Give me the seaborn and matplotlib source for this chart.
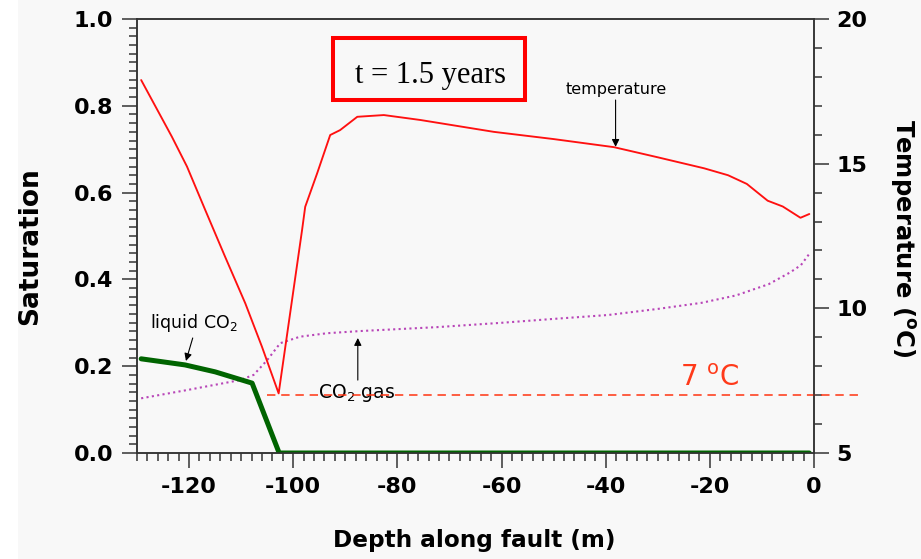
import matplotlib
matplotlib.use("Agg")
import matplotlib.pyplot as plt
from matplotlib.patches import Rectangle
from matplotlib.ticker import MultipleLocator
import seaborn as sns
import numpy as np

# ---------------- data ----------------
temp_depth = [-129.2, -123.3, -120.4, -116.9, -113.1, -109.2, -106.0, -102.8,
              -98.3, -97.7, -95.4, -92.9, -91.0, -87.7, -82.6, -75.6, -61.5,
              -50.0, -38.4, -30.0, -21.1, -16.5, -12.9, -8.9, -6.0, -2.6, -0.9]
temperature = [17.89, 15.93, 14.90, 13.40, 11.79, 10.17, 8.67, 7.06,
               12.71, 13.51, 14.67, 15.99, 16.16, 16.62, 16.68, 16.51, 16.10,
               15.85, 15.57, 15.22, 14.84, 14.60, 14.30, 13.72, 13.52, 13.13, 13.26]

liq_depth = [-129.2, -120.8, -115.0, -107.9, -102.7, -90.0, -60.0, -30.0, -0.9]
liquid_co2 = [0.217, 0.203, 0.187, 0.161, 0.0, 0.0, 0.0, 0.0, 0.0]

gas_depth = [-129.2, -120.4, -110.2, -107.6, -105.0, -102.5, -98.7, -93.5,
             -87.1, -72.4, -60.0, -50.0, -39.5, -30.0, -21.6, -15.0, -8.7,
             -4.6, -2.5, -0.9]
co2_gas = [0.126, 0.145, 0.168, 0.180, 0.214, 0.253, 0.268, 0.276,
           0.281, 0.290, 0.300, 0.309, 0.318, 0.332, 0.346, 0.363, 0.389,
           0.416, 0.433, 0.459]

threshold_temp = 7.0
threshold_range = [-105.0, 8.7]

x_lim = [-130, 0]
sat_lim = [0.0, 1.0]
temp_lim = [5, 20]

# ---------------- style ----------------
sns.set_style("ticks")
plt.rcParams['font.family'] = ['DejaVu Sans']
plt.rcParams['axes.unicode_minus'] = False
plt.rcParams['text.color'] = 'black'
plt.rcParams['axes.labelcolor'] = 'black'
plt.rcParams['xtick.color'] = 'black'
plt.rcParams['ytick.color'] = 'black'
plt.rcParams['xtick.labelcolor'] = 'black'
plt.rcParams['ytick.labelcolor'] = 'black'
BG = '#f8f8f8'
SPINE = '#333333'

fig = plt.figure(figsize=(9.21, 5.59), dpi=100, facecolor=BG)
fig.patches.append(Rectangle((0, 0), 18 / 921, 1, transform=fig.transFigure,
                             facecolor='white', edgecolor='none', zorder=-1))

ax = fig.add_axes([137 / 921, 1 - 453 / 559, 677 / 921, 434 / 559])
ax.set_facecolor(BG)
ax2 = ax.twinx()

# liquid CO2
sns.lineplot(x=liq_depth, y=liquid_co2, ax=ax, color='#006400', lw=3.6,
             sort=False, estimator=None, legend=False, zorder=3)
# CO2 gas
sns.lineplot(x=gas_depth, y=co2_gas, ax=ax, color='#b845b8', lw=1.5,
             linestyle=(0, (1, 1.6)), sort=False, estimator=None,
             legend=False, zorder=2)
# temperature
sns.lineplot(x=temp_depth, y=temperature, ax=ax2, color='#ff1010', lw=1.35,
             sort=False, estimator=None, legend=False, zorder=3)
# 7 C line
ax2.plot(threshold_range, [threshold_temp, threshold_temp], color='#ff3311',
         lw=1.1, linestyle=(0, (5.5, 3.8)), clip_on=False, zorder=2)

ax.set_xlim(*x_lim)
ax.set_ylim(*sat_lim)
ax2.set_ylim(*temp_lim)

ax.xaxis.set_major_locator(MultipleLocator(20))
ax.xaxis.set_minor_locator(MultipleLocator(2))
ax.yaxis.set_major_locator(MultipleLocator(0.2))
ax.yaxis.set_minor_locator(MultipleLocator(0.02))
ax2.yaxis.set_major_locator(MultipleLocator(5))
ax2.yaxis.set_minor_locator(MultipleLocator(1))

for a in (ax, ax2):
    for s in a.spines.values():
        s.set_visible(True)
        s.set_color(SPINE)
        s.set_linewidth(1.1)
    a.tick_params(which='major', length=11, width=1.1, color=SPINE,
                  labelcolor='black', direction='out', labelsize=16)
    a.tick_params(which='minor', length=6, width=1.1, color=SPINE,
                  direction='out')
ax.tick_params(axis='x', which='major', pad=6)
ax.tick_params(axis='y', which='major', pad=6)
ax2.tick_params(axis='y', which='major', pad=5)
for lab in ax.get_xticklabels() + ax.get_yticklabels() + ax2.get_yticklabels():
    lab.set_fontweight('bold')
ax.set_xlabel('')
ax.set_ylabel('')
ax2.set_ylabel('')

# axis titles
fig.text(30 / 921, 1 - 246 / 559, 'Saturation', rotation=90, ha='center',
         va='center', fontsize=19, fontweight='bold', color='black')
fig.text(902 / 921, 1 - 238 / 559, r'Temperature ($\mathbf{^o}$C)', rotation=270,
         ha='center', va='center', fontsize=17.5, fontweight='bold', color='black')
fig.text(474 / 921, 1 - 541 / 559, 'Depth along fault (m)', ha='center',
         va='center', fontsize=16.7, fontweight='bold', color='black')

# annotations
arrow_kw = dict(arrowstyle='-|>', color='black', lw=0.8, mutation_scale=11,
                shrinkA=0, shrinkB=0)
ax2.text(-37.9, 17.55, 'temperature', ha='center', va='center', fontsize=11.5,
         color='black')
ax2.annotate('', xy=(-38.1, 15.58), xytext=(-38.1, 17.2), arrowprops=arrow_kw)

ax.text(-127.5, 0.288, 'liquid CO$_2$', ha='left', va='baseline', fontsize=12.5,
        color='black')
ax.annotate('', xy=(-120.6, 0.212), xytext=(-119.3, 0.265), arrowprops=arrow_kw)

ax.text(-95.2, 0.126, 'CO$_2$ gas', ha='left', va='baseline', fontsize=13.5,
        color='black')
ax.annotate('', xy=(-87.6, 0.265), xytext=(-87.6, 0.168), arrowprops=arrow_kw)

ax2.text(-25.8, 7.30, r'7 $\mathregular{^o}$C', ha='left', va='baseline',
         fontsize=20, color='#ff3a1a')

# title box
fig.patches.append(Rectangle((333 / 921, 1 - 100 / 559), 192 / 921, 62 / 559,
                             transform=fig.transFigure, facecolor='none',
                             edgecolor='#ff0000', lw=2.9, zorder=5))
fig.text(430 / 921, 1 - 75 / 559, 't = 1.5 years', ha='center', va='center',
         fontsize=22, family='Liberation Serif', color='black')

fig.savefig('out.png', dpi=100, facecolor=BG)
